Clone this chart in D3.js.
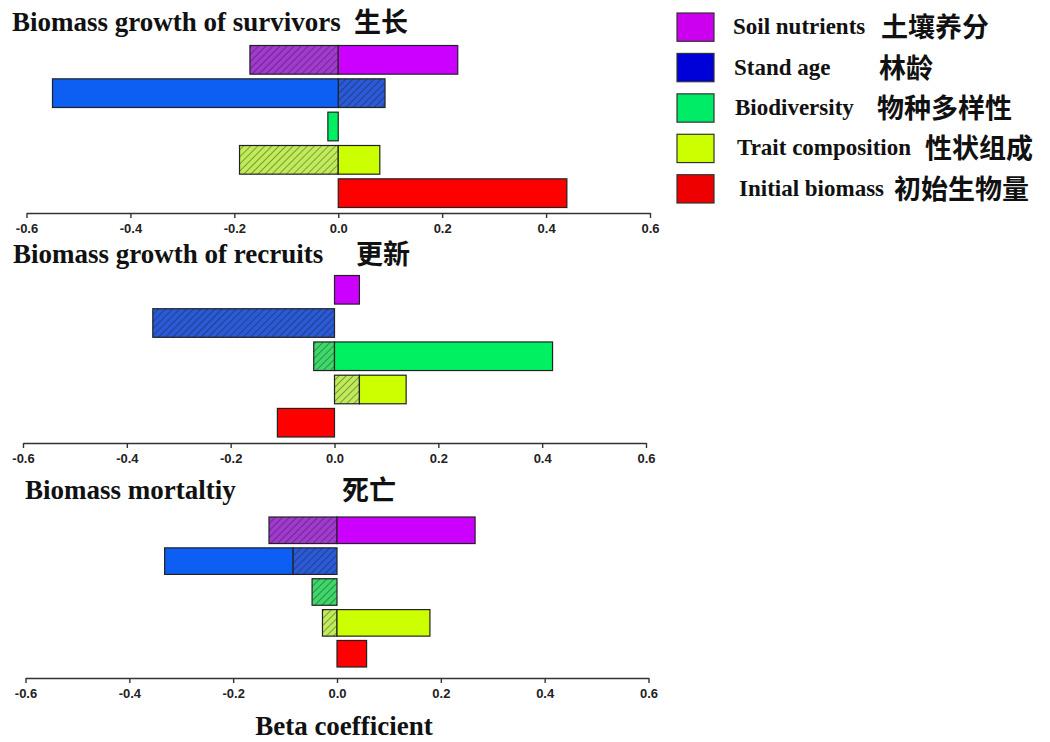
<!DOCTYPE html>
<html>
<head>
<meta charset="utf-8">
<script src="https://cdn.jsdelivr.net/npm/d3@7.8.5/dist/d3.min.js"></script>
<style>
  body { margin: 0; background: #fff; }
  svg { display: block; }
</style>
</head>
<body>
<div id="chart"></div>
<script>
// Factors (rows, top to bottom) and legend text
const factors = ["Soil nutrients", "Stand age", "Biodiversity", "Trait composition", "Initial biomass"];
const factorsZh = ["土壤养分", "林龄", "物种多样性", "性状组成", "初始生物量"];

// Panel titles
const panelTitles = ["Biomass growth of survivors", "Biomass growth of recruits", "Biomass mortaltiy"];
const panelTitlesZh = ["生长", "更新", "死亡"];

// Beta coefficients: solid = direct, hatched = indirect
const directSurvivors   = [0.23, -0.55, -0.02, 0.08, 0.44];
const indirectSurvivors = [-0.17, 0.09, 0, -0.19, 0];
const directRecruits    = [0.048, 0, 0.42, 0.09, -0.11];
const indirectRecruits  = [0, -0.35, -0.04, 0.048, 0];
const directMortality   = [0.266, -0.247, 0, 0.179, 0.057];
const indirectMortality = [-0.131, -0.085, -0.048, -0.028, 0];

const xTicks = [-0.6, -0.4, -0.2, 0.0, 0.2, 0.4, 0.6];
const xDomain = [-0.6, 0.6];

// colours
const solidColors  = ["#cc00ff", "#0d5ef2", "#00f062", "#ccff00", "#ff0000"];
const hatchColors  = ["#a23ad0", "#2a5ad6", "#3ed86a", "#c0ec5a", "#ff0000"];
const legendColors = ["#cc00ee", "#0000d8", "#00ec66", "#ccff00", "#ee0000"];

const directs = [directSurvivors, directRecruits, directMortality];
const indirects = [indirectSurvivors, indirectRecruits, indirectMortality];

// layout per panel
const layout = [
    { top: 45.5, bottom: 207.5, axisY: 213, x0: 26.5, x1: 650, titleY: 31, titleX: 12, zhX: 354 },
    { top: 275.5, bottom: 437, axisY: 443, x0: 23, x1: 646, titleY: 263, titleX: 13, zhX: 356 },
    { top: 517, bottom: 667, axisY: 678, x0: 25.5, x1: 648.5, titleY: 499, titleX: 25, zhX: 342 }
];

const serif = "'Liberation Serif', 'Times New Roman', serif";
const cjk = "'Noto Sans CJK SC', sans-serif";

const width = 1050, height = 742;
const svg = d3.select("#chart").append("svg")
    .attr("width", width)
    .attr("height", height)
    .style("background", "#fff");

// hatch patterns
const defs = svg.append("defs");
hatchColors.forEach((c, i) => {
    const p = defs.append("pattern")
        .attr("id", "hatch" + i)
        .attr("patternUnits", "userSpaceOnUse")
        .attr("width", 5)
        .attr("height", 5)
        .attr("patternTransform", "rotate(45)");
    p.append("rect").attr("width", 5).attr("height", 5).attr("fill", c);
    p.append("line")
        .attr("x1", 0).attr("y1", 0).attr("x2", 0).attr("y2", 5)
        .attr("stroke", "#111").attr("stroke-opacity", 0.75).attr("stroke-width", 1);
});

function segments(d, ind) {
    // hatched part sits next to zero, solid part stacks outward when the sign agrees
    const segs = [];
    if (ind !== 0) segs.push({ from: 0, to: ind, hatch: true });
    if (d !== 0) {
        if (ind !== 0 && Math.sign(ind) === Math.sign(d)) segs.push({ from: ind, to: ind + d, hatch: false });
        else segs.push({ from: 0, to: d, hatch: false });
    }
    return segs;
}

layout.forEach((L, pi) => {
    const x = d3.scaleLinear().domain(xDomain).range([L.x0, L.x1]);
    const y = d3.scaleBand().domain(factors).range([L.top, L.bottom]).paddingInner(0.14).paddingOuter(0);

    const g = svg.append("g");

    // title
    g.append("text")
        .attr("x", L.titleX)
        .attr("y", L.titleY)
        .attr("font-family", serif)
        .attr("font-weight", "bold")
        .attr("font-size", 27)
        .attr("fill", "#111")
        .text(panelTitles[pi]);
    g.append("text")
        .attr("x", L.zhX)
        .attr("y", L.titleY + 1)
        .attr("font-family", cjk)
        .attr("font-weight", "bold")
        .attr("font-size", 27)
        .attr("fill", "#111")
        .text(panelTitlesZh[pi]);

    // bars
    factors.forEach((f, i) => {
        const segs = segments(directs[pi][i], indirects[pi][i]);
        segs.forEach(s => {
            g.append("rect")
                .attr("x", x(Math.min(s.from, s.to)))
                .attr("y", y(f))
                .attr("width", Math.abs(x(s.to) - x(s.from)))
                .attr("height", y.bandwidth())
                .attr("fill", s.hatch ? "url(#hatch" + i + ")" : solidColors[i])
                .attr("stroke", "#222")
                .attr("stroke-width", 1.2);
        });
    });

    // axis
    const axis = d3.axisBottom(x)
        .tickValues(xTicks)
        .tickFormat(d => d.toFixed(1))
        .tickSize(5)
        .tickSizeOuter(0);
    const ax = svg.append("g")
        .attr("transform", "translate(0," + L.axisY + ")")
        .call(axis);
    ax.select(".domain").attr("stroke", "#333").attr("stroke-width", 1.6);
    ax.selectAll(".tick line").attr("stroke", "#333").attr("stroke-width", 1.4);
    ax.selectAll(".tick text")
        .attr("font-family", "'Liberation Sans', Arial, sans-serif")
        .attr("font-size", 13)
        .attr("font-weight", "bold")
        .attr("fill", "#222")
        .attr("dy", "0.9em");
});

// x axis title
svg.append("text")
    .attr("x", 344)
    .attr("y", 735)
    .attr("text-anchor", "middle")
    .attr("font-family", serif)
    .attr("font-weight", "bold")
    .attr("font-size", 27)
    .attr("fill", "#111")
    .text("Beta coefficient");

// legend
const legY = d3.scaleBand().domain(factors).range([13, 203]).paddingInner(0.3).paddingOuter(0);
const legTextX = [733, 734, 735, 737, 739];
const legZhX = [881, 879, 877, 925, 894];
const leg = svg.append("g");
factors.forEach((f, i) => {
    const cy = legY(f) + legY.bandwidth() / 2;
    leg.append("rect")
        .attr("x", 677)
        .attr("y", legY(f))
        .attr("width", 37)
        .attr("height", legY.bandwidth())
        .attr("fill", legendColors[i])
        .attr("stroke", "#333")
        .attr("stroke-width", 1.2);
    leg.append("text")
        .attr("x", legTextX[i])
        .attr("y", cy + 7)
        .attr("font-family", serif)
        .attr("font-weight", "bold")
        .attr("font-size", 23)
        .attr("fill", "#111")
        .text(f);
    leg.append("text")
        .attr("x", legZhX[i])
        .attr("y", cy + 10)
        .attr("font-family", cjk)
        .attr("font-weight", "bold")
        .attr("font-size", 27)
        .attr("fill", "#111")
        .text(factorsZh[i]);
});
</script>
</body>
</html>
